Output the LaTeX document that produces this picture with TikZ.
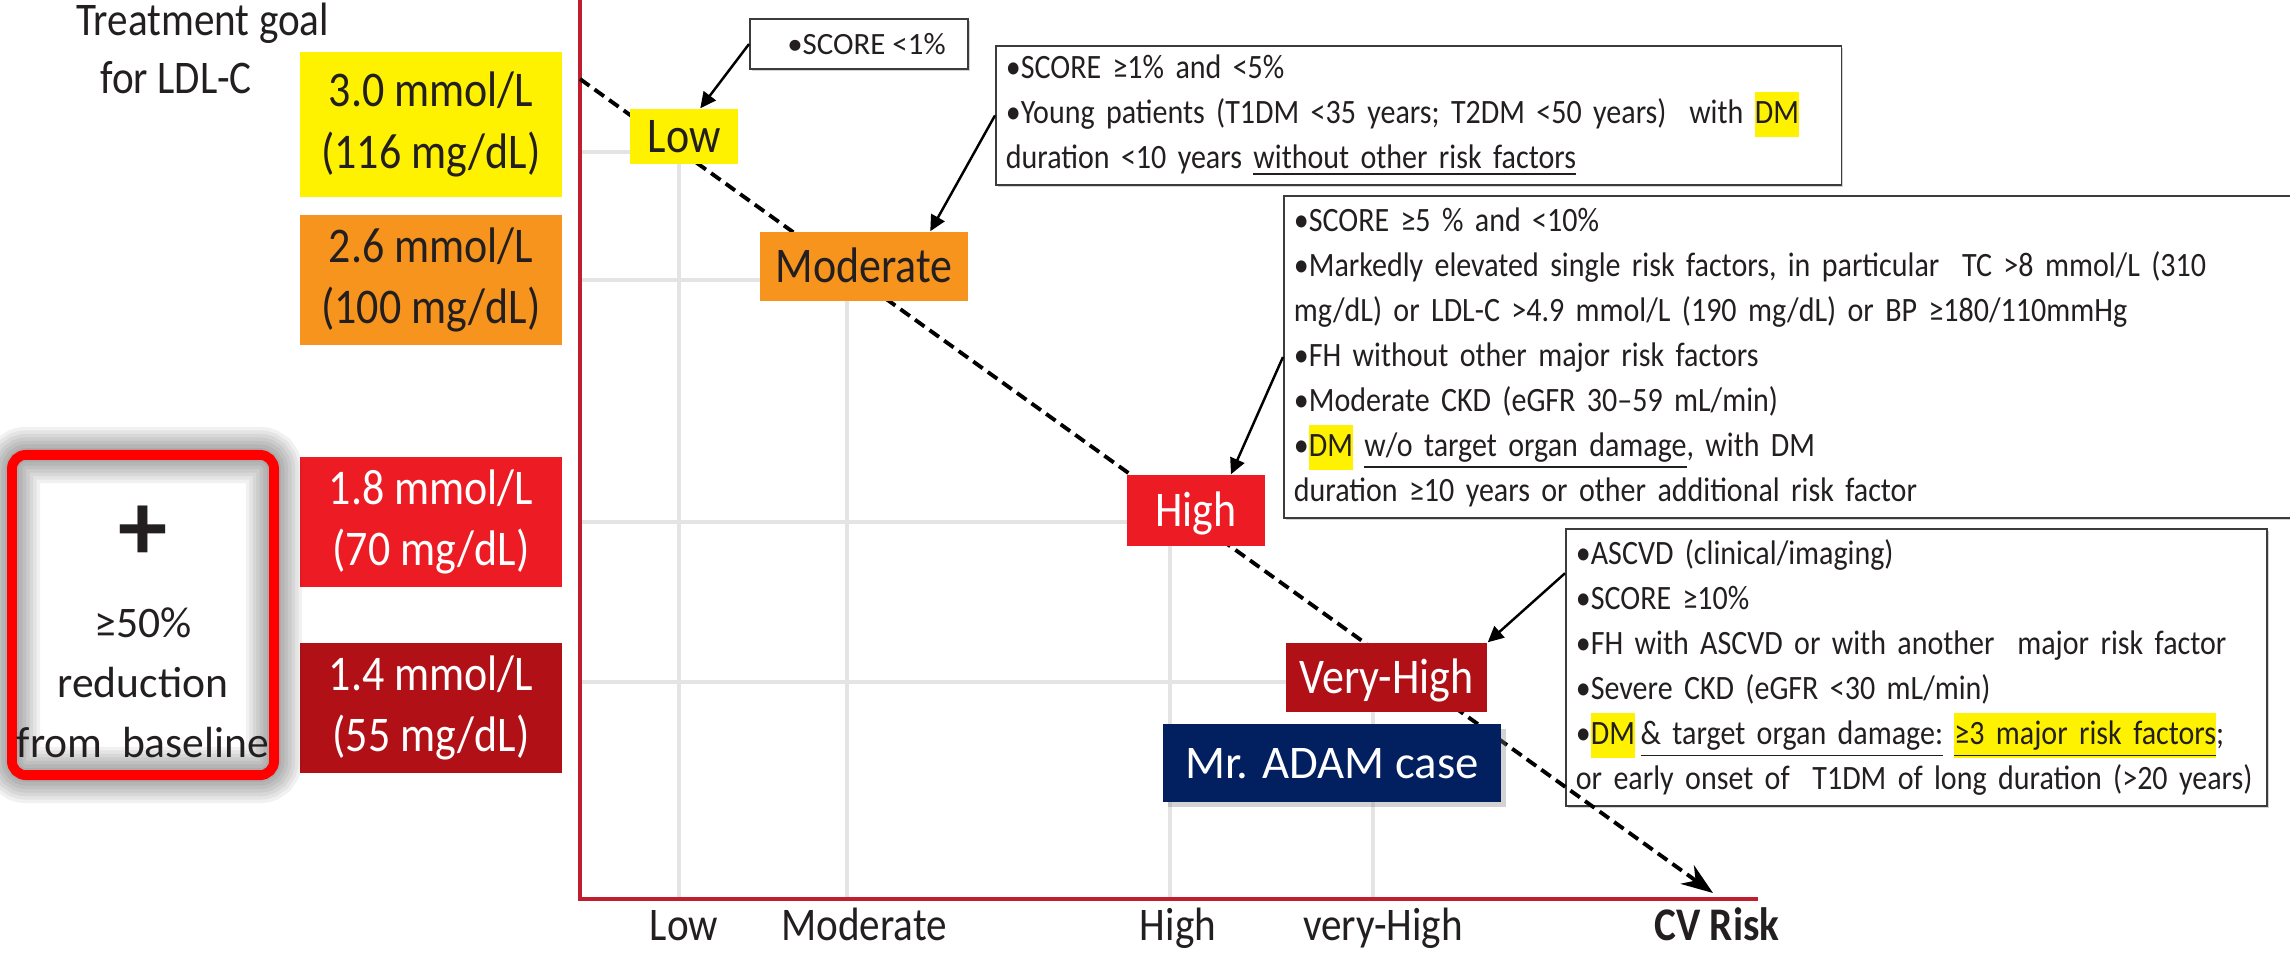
\documentclass[tikz,border=0pt]{standalone}
\usepackage{fontspec}
\setmainfont{Carlito}[FakeStretch=0.88]
\newfontfamily\plainfont{Carlito}
\usetikzlibrary{arrows.meta, shadows}
\definecolor{cyellow}{HTML}{FFF200}
\definecolor{corange}{HTML}{F7941D}
\definecolor{cred}{HTML}{ED1C24}
\definecolor{cdark}{HTML}{B11116}
\definecolor{cnavy}{HTML}{022060}
\definecolor{caxis}{HTML}{BE1E2D}
\definecolor{cgrid}{HTML}{E4E4E4}
\definecolor{ctext}{HTML}{231F20}
\definecolor{cframe}{HTML}{3C3C3C}
\newcommand{\hilite}[1]{{\setlength{\fboxsep}{0pt}\colorbox{cyellow}{\strut #1}}}
\tikzset{
  gridline/.style={draw=cgrid, line width=1.4pt},
  axisline/.style={draw=caxis, line width=1.1pt},
  goalbox/.style={fill=#1, minimum width=2.62cm, inner sep=0pt, align=center, font=\fontsize{14.2}{17.4}\selectfont},
  riskbox/.style={fill=#1, inner sep=0pt, text height=9.2pt, text depth=0pt, font=\fontsize{14.2}{17}\selectfont},
  callout/.style={draw=cframe, line width=0.5pt, fill=white, inner xsep=0.1cm, inner ysep=0pt, align=left, text=ctext,
    font=\fontsize{9.7}{12.8}\selectfont, drop shadow={shadow xshift=0.6pt, shadow yshift=-0.6pt, opacity=0.35}},
  pointer/.style={-{Triangle[length=4.5pt, width=4.3pt]}, line width=0.7pt},
  trend/.style={-{Stealth[length=9pt, width=6.5pt]}, line width=1.1pt, dash pattern=on 3.3pt off 1.8pt},
  axislabel/.style={anchor=base, text=ctext, font=\fontsize{13.3}{16}\selectfont},
}

\begin{document}
\begin{tikzpicture}[x=0.01cm, y=-0.01cm]
  \path[use as bounding box, clip] (0,0) rectangle (2290,954);

  % axes and grid
  \coordinate (o) at (580,899);
  \coordinate (ytop) at (580,0);
  \coordinate (xend) at (1758,899);
  \coordinate (g1) at (679,152);
  \coordinate (g2) at (847,280);
  \coordinate (g3) at (1170,522);
  \coordinate (g4) at (1373,682);
  \foreach \g in {g1,g2,g3,g4}
    \draw[gridline] (o |- \g) -- (\g) -- (\g |- o);
  \draw[axisline] (ytop) -- (o) -- (xend);

  % treatment goals
  \node[anchor=base west, text=ctext, font=\fontsize{13.3}{16}\selectfont] (head1) at (64,35) {Treatment goal};
  \node[anchor=base west, text=ctext, font=\fontsize{13.3}{16}\selectfont] (head2) at (88,93) {for LDL-C};
  \node[goalbox=cyellow, minimum height=1.45cm, text=ctext] (goal1) at (431,124.5) {3.0 mmol/L\\(116 mg/dL)};
  \node[goalbox=corange, minimum height=1.30cm, text=ctext] (goal2) at (431,280) {2.6 mmol/L\\(100 mg/dL)};
  \node[goalbox=cred, minimum height=1.30cm, text=white] (goal3) at (431,522) {1.8 mmol/L\\(70 mg/dL)};
  \node[goalbox=cdark, minimum height=1.30cm, text=white] (goal4) at (431,708) {1.4 mmol/L\\(55 mg/dL)};

  % reduction box with glow
  \foreach \w in {2,4,...,16}
    \draw[black, opacity=0.055, line width=\w pt, rounded corners=4pt] (12,455) rectangle (274,775);
  \node[draw=red, line width=2.8pt, rounded corners=4pt, minimum width=2.62cm, minimum height=3.2cm] (extra) at (143,615) {};
  \node[text=ctext, font=\plainfont\fontsize{28}{28}\bfseries] (plus) at (143,533) {+};
  \node[text=ctext, align=center, font=\plainfont\fontsize{12.4}{17}\selectfont] (reduce) at (143,683) {≥50\%\\reduction\\from\ \ baseline};

  % criteria
  \node[callout, anchor=center, minimum width=2.18cm, minimum height=0.5cm, font=\plainfont\fontsize{8.8}{11}\selectfont] (cLow) at (859,44) {\hspace*{0.15cm}•SCORE <1\%};
  \node[callout, anchor=north west, text width=8.25cm, minimum height=1.39cm] (cMod) at (995,45)
    {•SCORE ≥1\% and <5\%\\
     •Young patients (T1DM <35 years; T2DM <50 years)\ \ with \hilite{DM}\\
     duration <10 years \underline{without other risk factors}};
  \node[callout, anchor=north west, text width=9.97cm, minimum height=3.22cm] (cHigh) at (1283,195)
    {•SCORE ≥5 \% and <10\%\\
     •Markedly elevated single risk factors, in particular\ \ TC >8 mmol/L (310\\
     mg/dL) or LDL-C >4.9 mmol/L (190 mg/dL) or BP ≥180/110mmHg\\
     •FH without other major risk factors\\
     •Moderate CKD (eGFR 30--59 mL/min)\\
     •\hilite{DM} \underline{w/o target organ damage}, with DM\\
     duration ≥10 years or other additional risk factor};
  \node[callout, anchor=north west, text width=6.81cm, minimum height=2.77cm] (cVH) at (1565,528)
    {•ASCVD (clinical/imaging)\\
     •SCORE ≥10\%\\
     •FH with ASCVD or with another\ \ major risk factor\\
     •Severe CKD (eGFR <30 mL/min)\\
     •\hilite{DM}\,\underline{\& target organ damage:} \hilite{\underline{≥3 major risk factors}};\\
     or early onset of\ \ T1DM of long duration (>20 years)};

  % risk line
  \coordinate (dstart) at (580,79);
  \coordinate (dend) at (1713,893);
  \draw[trend] (dstart) -- (dend);

  % risk levels
  \node[riskbox=cyellow, minimum width=1.08cm, minimum height=0.55cm, text=ctext] (low) at (684,136.5) {Low};
  \node[riskbox=corange, minimum width=2.08cm, minimum height=0.69cm, text=ctext] (mod) at (864,266.5) {Moderate};
  \node[riskbox=cred, minimum width=1.38cm, minimum height=0.71cm, text=white] (high) at (1196,510.5) {High};
  \node[riskbox=cdark, minimum width=2.01cm, minimum height=0.69cm, text=white] (vhigh) at (1386.5,677.5) {Very-High};
  \node[fill=cnavy, inner sep=0pt, minimum width=3.38cm, minimum height=0.78cm, text=white, text height=8.6pt, text depth=0pt,
    font=\plainfont\fontsize{13.3}{16}\selectfont, drop shadow={shadow xshift=1.5pt, shadow yshift=-1.5pt, opacity=0.35}] (adam) at (1332,763) {Mr. ADAM case};

  \draw[pointer] (cLow.west) -- (low.60);
  \draw[pointer] (cMod.west) -- (mod.28);
  \draw[pointer] (cHigh.west) -- (high.46);
  \draw[pointer] (cVH.165) -- (vhigh.north east);

  % axis labels
  \node[axislabel] (xlow) at (684,940) {Low};
  \node[axislabel] (xmod) at (864,940) {Moderate};
  \node[axislabel] (xhigh) at (1178,940) {High};
  \node[axislabel] (xvh) at (1383,940) {very-High};
  \node[axislabel, font=\fontsize{13.3}{16}\selectfont\bfseries] (xcv) at (1717,940) {CV Risk};
\end{tikzpicture}
\end{document}
